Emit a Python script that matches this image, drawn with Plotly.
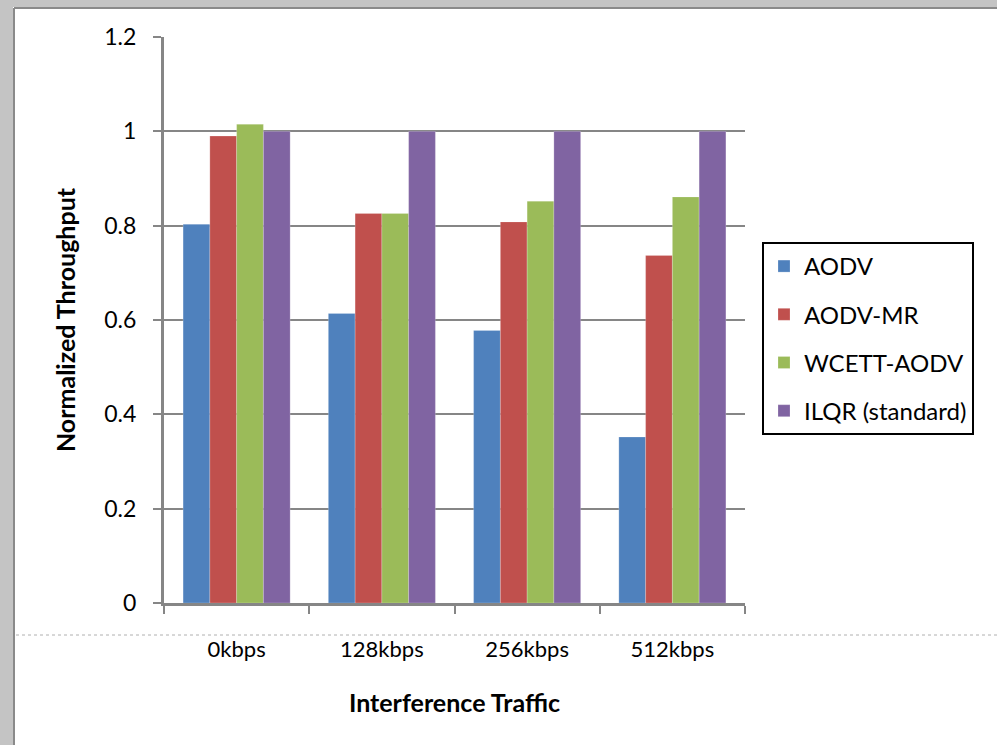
import plotly.graph_objects as go

# Normalized throughput under increasing interference traffic
categories = ["0kbps", "128kbps", "256kbps", "512kbps"]
series_names = ["AODV", "AODV-MR", "WCETT-AODV", "ILQR (standard)"]
aodv = [0.803, 0.614, 0.578, 0.352]
aodv_mr = [0.990, 0.826, 0.808, 0.737]
wcett_aodv = [1.015, 0.826, 0.852, 0.861]
ilqr = [1.0, 1.0, 1.0, 1.0]
y_ticks = [0, 0.2, 0.4, 0.6, 0.8, 1, 1.2]
y_tick_labels = ["0", "0.2", "0.4", "0.6", "0.8", "1", "1.2"]

colors = ["#4F81BD", "#C0504D", "#9BBB59", "#8064A2"]
W, H = 997, 745
L, R, T, B = 164, 745, 37, 603  # plot area in pixels
FONT = "Lato"
AXIS_GREY = "#868686"


def px_x(px):
    return (px - L) / (R - L)


def px_y(py):
    return (B - py) / (B - T)


fig = go.Figure()
for i, (name, vals) in enumerate(zip(series_names, [aodv, aodv_mr, wcett_aodv, ilqr])):
    fig.add_trace(go.Bar(
        x=categories, y=vals, name=name, legendgroup=f"g{i}",
        marker=dict(color=colors[i], line=dict(color="rgba(255,255,255,0.35)", width=0.6)),
    ))

fig.update_layout(
    width=W, height=H,
    margin=dict(l=L, r=W - R, t=T, b=H - B),
    paper_bgcolor="white", plot_bgcolor="white",
    barmode="group", bargap=0.263, bargroupgap=0,
    font=dict(family=FONT, size=23, color="black"),
    showlegend=True,
    legend=dict(
        x=px_x(762), y=px_y(242), xanchor="left", yanchor="top",
        bordercolor="black", borderwidth=2, bgcolor="white",
        font=dict(family=FONT, size=24, color="black"),
        tracegroupgap=14, itemwidth=30,
        entrywidth=190, entrywidthmode="pixels",
    ),
)

fig.update_xaxes(
    type="category", tickson="boundaries",
    showline=True, linecolor=AXIS_GREY, linewidth=3,
    ticks="outside", ticklen=8, tickwidth=2, tickcolor=AXIS_GREY,
    ticklabelstandoff=25,
    tickfont=dict(family=FONT, size=22, color="black"),
    showgrid=False, zeroline=False,
    title=dict(text="<b>Interference Traffic</b>", standoff=34,
               font=dict(family=FONT, size=25, color="black")),
)

fig.update_yaxes(
    range=[0, 1.2], tickvals=y_ticks, ticktext=y_tick_labels,
    showline=True, linecolor=AXIS_GREY, linewidth=3,
    ticks="outside", ticklen=8, tickwidth=2, tickcolor=AXIS_GREY,
    ticklabelstandoff=12,
    tickfont=dict(family=FONT, size=23, color="black"),
    showgrid=True, gridcolor=AXIS_GREY, gridwidth=2,
    zeroline=False,
    title=dict(text="<b>Normalized Throughput</b>", standoff=22,
               font=dict(family=FONT, size=25, color="black")),
)

# Sheet frame: hatched grey strips along the left and top edges
fig.add_shape(type="rect", xref="paper", yref="paper",
              x0=px_x(0), x1=px_x(13), y0=px_y(H), y1=px_y(0),
              fillcolor="#c4c4c4", line=dict(width=0), layer="above")
fig.add_shape(type="rect", xref="paper", yref="paper",
              x0=px_x(0), x1=px_x(W), y0=px_y(7), y1=px_y(0),
              fillcolor="#c4c4c4", line=dict(width=0), layer="above")
fig.add_shape(type="line", xref="paper", yref="paper",
              x0=px_x(14), x1=px_x(14), y0=px_y(H), y1=px_y(8),
              line=dict(color="#8a8a8a", width=2), layer="above")
fig.add_shape(type="line", xref="paper", yref="paper",
              x0=px_x(14), x1=px_x(W), y0=px_y(8), y1=px_y(8),
              line=dict(color="#8a8a8a", width=2), layer="above")
# Page-break guide across the sheet
fig.add_shape(type="line", xref="paper", yref="paper",
              x0=px_x(16), x1=px_x(W), y0=px_y(635), y1=px_y(635),
              line=dict(color="#b0b0b0", width=1, dash="dot"), layer="below")

fig.write_html("out.html")
